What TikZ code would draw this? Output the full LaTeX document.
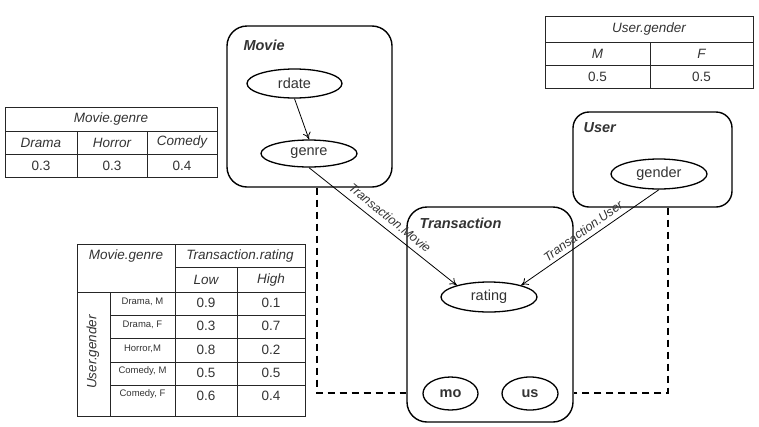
\documentclass[tikz,border=0pt]{standalone}
\usepackage{fontspec}
\setmainfont{Liberation Sans}
\usetikzlibrary{shapes.geometric,arrows.meta}
\begin{document}
\begin{tikzpicture}[x=1pt,y=-1pt,
  every node/.style={text=black!80},
  classbox/.style={draw, line width=1.4pt, rounded corners=20pt, inner sep=0pt},
  var/.style={draw, ellipse, line width=1.3pt, inner sep=0pt, font=\fontsize{14.5}{16}\selectfont},
  keyvar/.style={var, font=\fontsize{14.5}{16}\selectfont\bfseries},
  classlbl/.style={anchor=west, font=\fontsize{14.5}{16}\selectfont\bfseries\itshape},
  tbl/.style={line width=0.9pt, black!85},
  cell/.style={font=\fontsize{13.5}{15}\selectfont},
  hdr/.style={font=\fontsize{13.5}{15}\selectfont\itshape},
  small/.style={font=\fontsize{9.5}{11}\selectfont},
  arr/.style={-{To[length=7pt,width=8pt]}, line width=0.8pt},
  reflbl/.style={inner sep=0pt, font=\fontsize{12.5}{14}\selectfont\itshape},
  dashline/.style={line width=1.6pt, dash pattern=on 7pt off 5pt}
]
\useasboundingbox (0,0) rectangle (759,426);

% class boxes
\node[classbox, minimum width=165pt, minimum height=161pt] (movie) at (309.5,106.5) {};
\node[classbox, rounded corners=16pt, minimum width=159pt, minimum height=95pt] (user) at (652.5,159.5) {};
\node[classbox, minimum width=166pt, minimum height=215pt] (trans) at (490,314.5) {};
\node[classlbl] (movielbl) at (240,45) {Movie};
\node[classlbl] (userlbl) at (580,128) {User};
\node[classlbl] (translbl) at (416,223) {Transaction};

% attributes
\node[var, minimum width=95pt, minimum height=29pt] (rdate) at (294.5,83.5) {rdate};
\node[var, minimum width=96pt, minimum height=27pt] (genre) at (309,153.5) {genre};
\node[var, minimum width=96pt, minimum height=30pt] (gender) at (659,174) {gender};
\node[var, minimum width=96pt, minimum height=30pt] (rating) at (489,297) {rating};
\node[keyvar, minimum width=55pt, minimum height=33pt] (mo) at (450.5,393.5) {mo};
\node[keyvar, minimum width=56pt, minimum height=33pt] (us) at (530,393.5) {us};

% arrows
\draw[arr] (rdate.south) -- (genre.north);
\draw[arr] (genre.south) -- (rating.160);
\draw[arr] (gender.south) -- (rating.20);
\node[reflbl, rotate=-39] (tmlbl) at (390,218) {Transaction.Movie};
\node[reflbl, rotate=36] (tulbl) at (583,231) {Transaction.User};

% dashed links
\coordinate (dl) at (317,393);
\coordinate (dr) at (668,393);
\draw[dashline] (movie.south -| dl) -- (dl) -- (trans.west |- dl);
\draw[dashline] (user.south -| dr) -- (dr) -- (trans.east |- dr);

% table Movie.genre
\draw[tbl] (5,107) rectangle (217,177);
\draw[tbl] (5,131) -- (217,131) (5,154) -- (217,154)
  (77,131) -- (77,177) (147,131) -- (147,177);
\node[hdr] (mg) at (111,119) {Movie.genre};
\node[hdr] (mg1) at (41,142.5) {Drama};
\node[hdr] (mg2) at (112,142.5) {Horror};
\node[hdr] (mg3) at (182,142.5) {Comedy};
\node[cell] (mgv1) at (41,165.5) {0.3};
\node[cell] (mgv2) at (112,165.5) {0.3};
\node[cell] (mgv3) at (182,165.5) {0.4};

% table User.gender
\draw[tbl] (545,16) rectangle (753,88);
\draw[tbl] (545,42) -- (753,42) (545,65) -- (753,65) (650,42) -- (650,88);
\node[hdr] (ug) at (649,29) {User.gender};
\node[hdr] (ug1) at (597.5,53.5) {M};
\node[hdr] (ug2) at (701.5,53.5) {F};
\node[cell] (ugv1) at (597.5,76.5) {0.5};
\node[cell] (ugv2) at (701.5,76.5) {0.5};

% table Transaction.rating
\draw[tbl] (77,244) rectangle (305,416);
\draw[tbl] (175,267) -- (305,267) (77,292) -- (305,292);
\foreach \yy in {315,338,362,385} \draw[tbl] (110,\yy) -- (305,\yy);
\draw[tbl] (110,292) -- (110,416) (175,244) -- (175,416) (237,267) -- (237,416);
\node[hdr] (tg) at (126,256) {Movie.genre};
\node[hdr] (tr) at (240,256) {Transaction.rating};
\node[hdr] (tlow) at (206,280) {Low};
\node[hdr] (thigh) at (271,280) {High};
\node[hdr, rotate=90] (tug) at (93,352) {User.gender};
\foreach \nm/\lab/\lo/\hi/\yy in {r1/{Drama, M}/0.9/0.1/303,
    r2/{Drama, F}/0.3/0.7/326,
    r3/{Horror,M}/0.8/0.2/350,
    r4/{Comedy, M}/0.5/0.5/373,
    r5/{Comedy, F}/0.6/0.4/396}{
  \node[small] (\nm) at (142.5,\yy-1.5) {\lab};
  \node[cell] (\nm lo) at (206,\yy) {\lo};
  \node[cell] (\nm hi) at (271,\yy) {\hi};
}
\end{tikzpicture}
\end{document}
